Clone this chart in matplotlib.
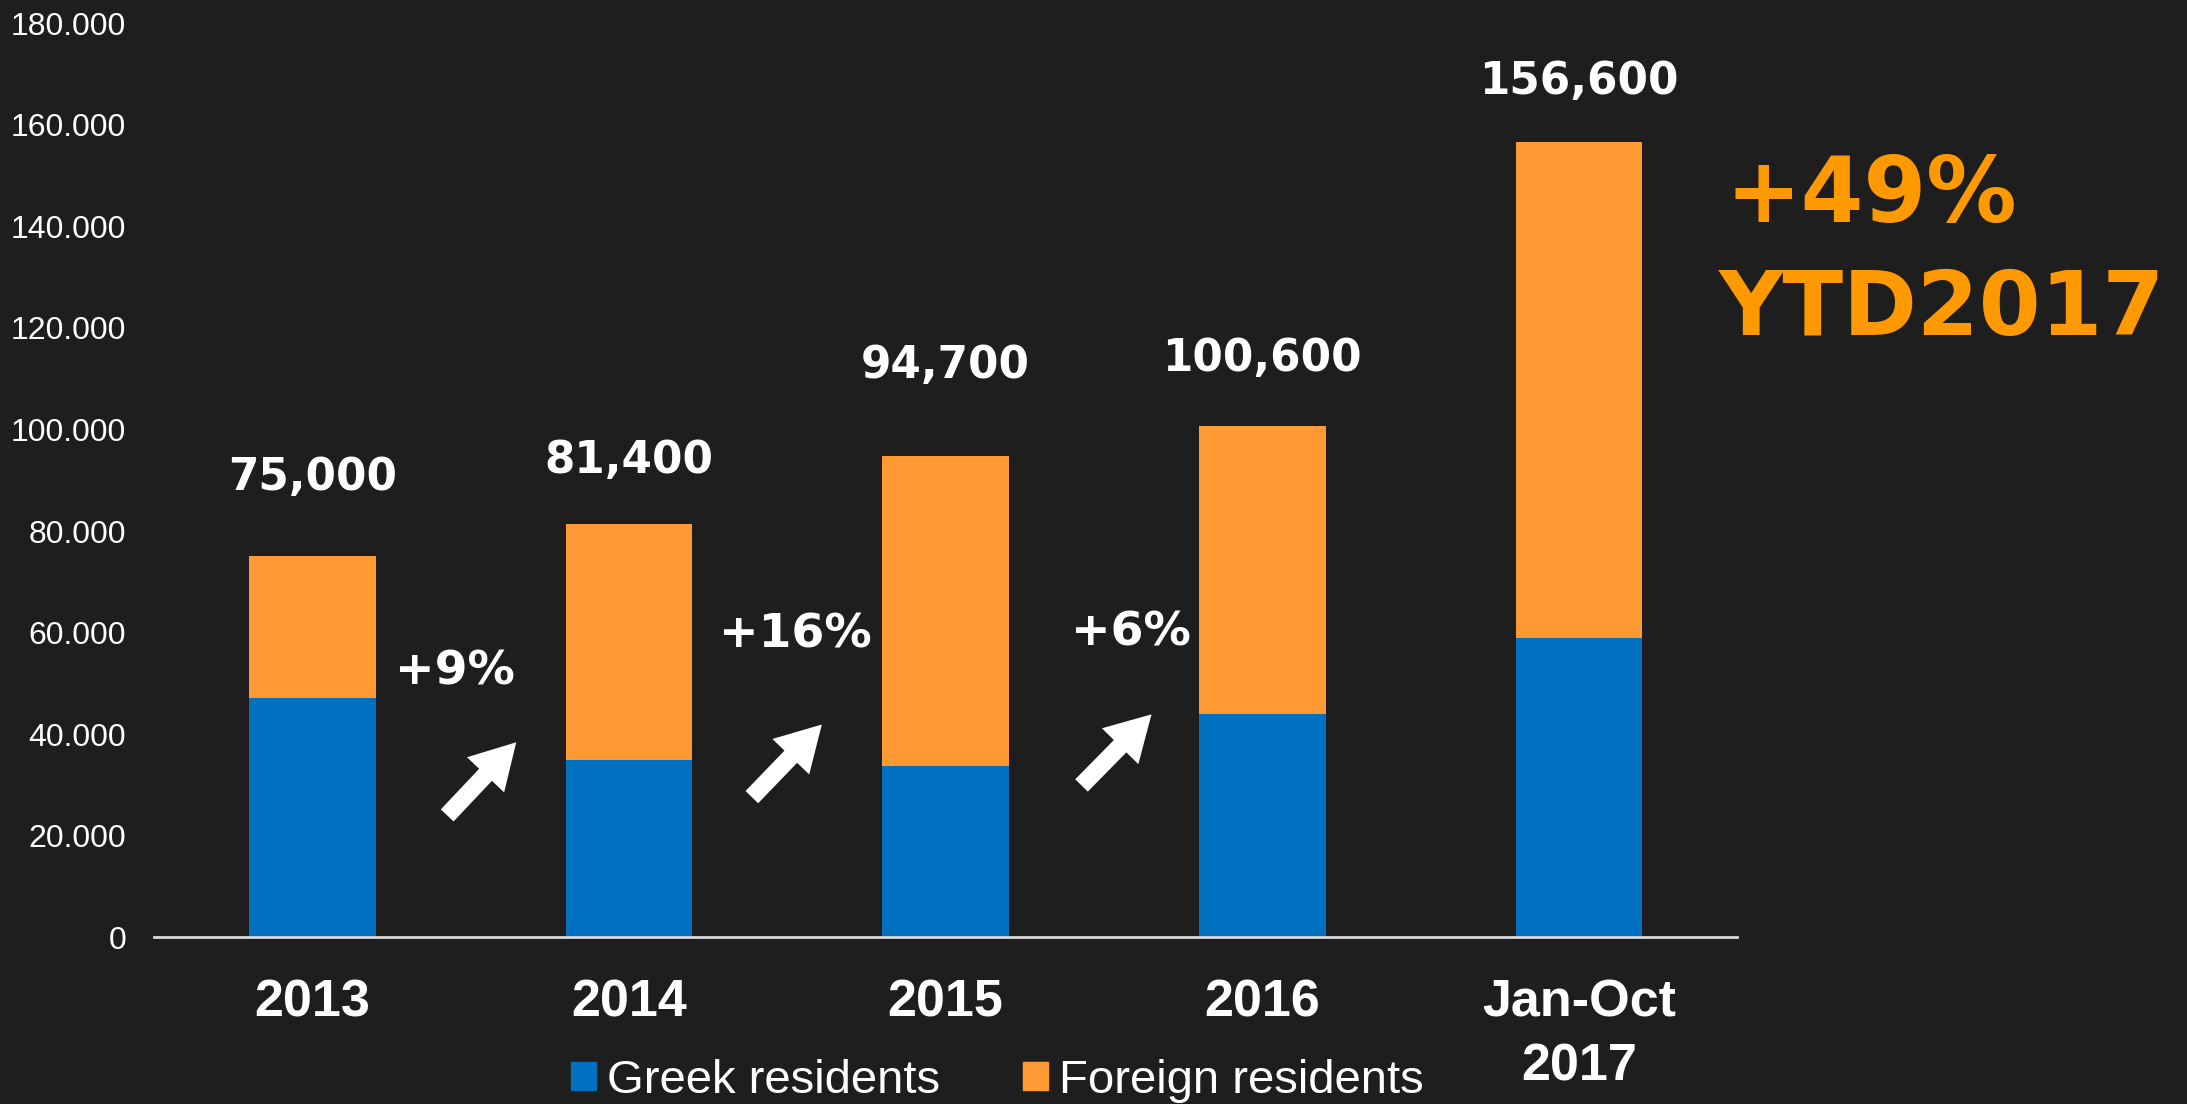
import matplotlib.pyplot as plt
from matplotlib.patches import Patch

# Data
categories = ['2013', '2014', '2015', '2016', 'Jan-Oct\n2017']
totals = [75000, 81400, 94700, 100600, 156600]
greek = [47200, 35000, 33700, 43900, 59000]
foreign = [t - g for t, g in zip(totals, greek)]
total_labels = ['75,000', '81,400', '94,700', '100,600', '156,600']
growth_labels = ['+9%', '+16%', '+6%']

# Colours
bg = '#1e1e1e'
blue = '#0070c0'
orange = '#ff9933'
hl = '#ff9900'

fig = plt.figure(figsize=(21.87, 11.04), dpi=100, facecolor=bg)
ax = fig.add_axes([0.0704, 0.151, 0.724, 0.828])
ax.set_facecolor(bg)

x = list(range(len(categories)))
ax.bar(x, greek, width=0.4, color=blue)
ax.bar(x, foreign, width=0.4, bottom=greek, color=orange)

ax.set_xlim(-0.5, 4.5)
ax.set_ylim(0, 180000)
ax.set_yticks(range(0, 180001, 20000))
ax.set_yticklabels(['0'] + [f'{v // 1000}.000' for v in range(20000, 180001, 20000)],
                   fontsize=23, color='white', family='Liberation Sans')
ax.set_xticks(x)
ax.set_xticklabels(categories, fontsize=37.5, color='white', fontweight='bold',
                   family='Liberation Sans', linespacing=1.38)
ax.tick_params(axis='y', length=0, pad=20)
ax.tick_params(axis='x', length=0, pad=30)

for s in ['top', 'right', 'left']:
    ax.spines[s].set_visible(False)
ax.spines['bottom'].set_color('#d9d9d9')
ax.spines['bottom'].set_linewidth(2)

# total labels above bars
label_off = [15500, 12500, 17900, 13400, 11900]
for xi, t, lab, off in zip(x, totals, total_labels, label_off):
    ax.text(xi, t + off, lab, ha='center', va='center', fontsize=31.5,
            fontweight='bold', color='white', family='DejaVu Sans')

# growth labels and arrows between bars
growth_pos = [(0.451, 52200), (1.524, 59500), (2.584, 60000)]
arrows = [((0.426, 24000), (0.644, 38400)),
          ((1.388, 27600), (1.609, 41900)),
          ((2.429, 29900), (2.650, 43900))]
for lab, (gx, gy) in zip(growth_labels, growth_pos):
    ax.text(gx, gy, lab, ha='center', va='center', fontsize=34,
            fontweight='bold', color='white', family='DejaVu Sans')
for tail, tip in arrows:
    ax.annotate('', xy=tip, xytext=tail,
                arrowprops=dict(arrowstyle='simple,head_width=1.6,head_length=1.4,tail_width=0.55',
                                color='white', lw=0, mutation_scale=23,
                                shrinkA=0, shrinkB=0))

# highlight text
fig.text(0.789, 0.822, '+49%', fontsize=65, fontweight='bold', color=hl,
         family='DejaVu Sans', va='center', ha='left')
fig.text(0.786, 0.719, 'YTD2017', fontsize=64, fontweight='bold', color=hl,
         family='DejaVu Sans', va='center', ha='left')

# legend
handles = [Patch(color=blue), Patch(color=orange)]
leg = fig.legend(handles, ['Greek residents', 'Foreign residents'],
                 loc='center', bbox_to_anchor=(0.456, 0.021), ncol=2,
                 frameon=False, handlelength=0.53, handleheight=0.53,
                 handletextpad=0.23, columnspacing=1.75,
                 prop={'family': 'Liberation Sans', 'size': 34})
for t in leg.get_texts():
    t.set_color('white')

fig.savefig('out.png', dpi=100, facecolor=bg)
